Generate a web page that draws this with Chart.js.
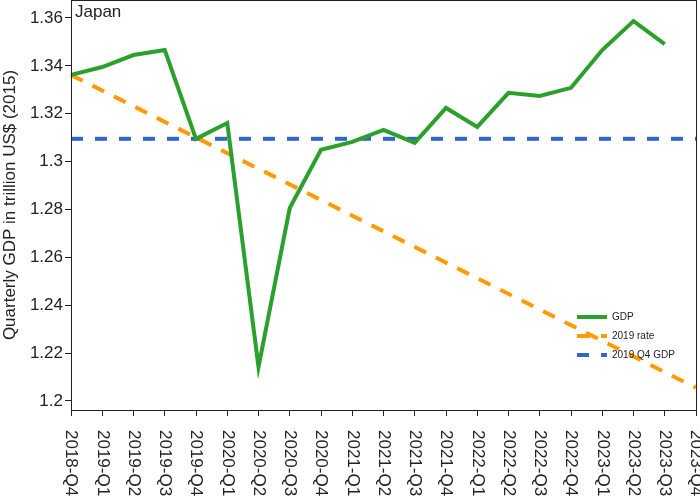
<!DOCTYPE html>
<html>
<head>
<meta charset="utf-8">
<script src="https://cdn.jsdelivr.net/npm/chart.js@4"></script>
<style>
  html, body { margin: 0; padding: 0; background: #fff; }
  canvas { display: block; }
</style>
</head>
<body>
<canvas id="gdp" width="700" height="500"></canvas>
<script>
// quarters on the x axis
var quarters = ['2018-Q4', '2019-Q1', '2019-Q2', '2019-Q3', '2019-Q4',
	'2020-Q1', '2020-Q2', '2020-Q3', '2020-Q4',
	'2021-Q1', '2021-Q2', '2021-Q3', '2021-Q4',
	'2022-Q1', '2022-Q2', '2022-Q3', '2022-Q4',
	'2023-Q1', '2023-Q2', '2023-Q3', '2023-Q4'];

// GDP, trillion US$ (2015), last quarter not yet out
var gdp = [1.3362, 1.3395, 1.3445, 1.3466, 1.3095,
	1.3161, 1.2142, 1.2806, 1.3049,
	1.3082, 1.3132, 1.3078, 1.3224,
	1.3145, 1.3287, 1.3274, 1.3308,
	1.3466, 1.3587, 1.3491, null];

// 2019 growth rate trend, start and end only
var rate2019 = [1.3362, null, null, null, null, null, null, null, null, null,
	null, null, null, null, null, null, null, null, null, null, 1.2055];

// 2019 Q4 level
var q4level = [1.3095, null, null, null, null, null, null, null, null, null,
	null, null, null, null, null, null, null, null, null, null, 1.3095];

var yTicks = [1.2, 1.22, 1.24, 1.26, 1.28, 1.3, 1.32, 1.34, 1.36];

var textColor = '#222';
var fontFamily = '"Liberation Sans", Arial, sans-serif';

// frame, title, rotated quarter labels and legend
var extras = {
	id: 'extras',
	afterDraw: function(chart) {
		var ctx = chart.ctx;
		var area = chart.chartArea;
		var xs = chart.scales.x;

		ctx.save();
		ctx.strokeStyle = textColor;
		ctx.lineWidth = 1;
		ctx.strokeRect(area.left + 0.5, area.top + 0.5, area.right - area.left, area.bottom - area.top);

		ctx.fillStyle = textColor;
		ctx.font = '17px ' + fontFamily;
		ctx.textAlign = 'left';
		ctx.textBaseline = 'top';
		ctx.fillText('Japan', area.left + 4, area.top + 4);

		for (var i = 0; i < quarters.length; i++) {
			var x = xs.getPixelForValue(i);
			ctx.save();
			ctx.translate(x, area.bottom + 20);
			ctx.rotate(Math.PI / 2);
			ctx.textAlign = 'left';
			ctx.textBaseline = 'middle';
			ctx.fillText(quarters[i], 0, 0);
			ctx.restore();
		}

		var lx = area.left + 506;
		var ly = area.top + 317;
		ctx.font = '10px ' + fontFamily;
		ctx.textBaseline = 'middle';
		chart.data.datasets.forEach(function(ds, k) {
			var y = ly + k * 19;
			ctx.beginPath();
			ctx.setLineDash(ds.borderDash || []);
			ctx.strokeStyle = ds.borderColor;
			ctx.lineWidth = ds.borderWidth;
			ctx.moveTo(lx, y);
			ctx.lineTo(lx + 30, y);
			ctx.stroke();
			ctx.setLineDash([]);
			ctx.fillStyle = textColor;
			ctx.fillText(ds.label, lx + 35, y);
		});
		ctx.restore();
	}
};

function noPad(scale) {
	scale.paddingTop = 0;
	scale.paddingBottom = 0;
	scale.paddingLeft = 0;
	scale.paddingRight = 0;
}

var ctx = document.getElementById('gdp').getContext('2d');

new Chart(ctx, {
	type: 'line',
	data: {
		labels: quarters,
		datasets: [{
			label: 'GDP',
			data: gdp,
			borderColor: '#2ca02c',
			borderWidth: 4,
			pointRadius: 0,
			tension: 0
		}, {
			label: '2019 rate',
			data: rate2019,
			borderColor: '#ff9a00',
			borderWidth: 4,
			borderDash: [13, 11],
			pointRadius: 0,
			spanGaps: true
		}, {
			label: '2019 Q4 GDP',
			data: q4level,
			borderColor: '#3366cc',
			borderWidth: 4,
			borderDash: [12, 12],
			pointRadius: 0,
			spanGaps: true
		}]
	},
	options: {
		responsive: false,
		animation: false,
		devicePixelRatio: 1,
		layout: { padding: { top: 0, right: 4, bottom: 0, left: 0 } },
		plugins: {
			legend: { display: false },
			tooltip: { enabled: false }
		},
		scales: {
			x: {
				offset: false,
				border: { display: true, color: textColor },
				grid: { drawOnChartArea: false, drawTicks: true, tickLength: 6, color: textColor },
				ticks: { display: false },
				afterFit: function(scale) { scale.height = 90; noPad(scale); }
			},
			y: {
				min: 1.1962,
				max: 1.3675,
				border: { display: true, color: textColor },
				grid: { drawOnChartArea: false, drawTicks: true, tickLength: 6, color: textColor },
				afterBuildTicks: function(scale) {
					scale.ticks = yTicks.map(function(v) { return { value: v }; });
				},
				ticks: {
					color: textColor,
					font: { family: fontFamily, size: 17 },
					padding: 2,
					callback: function(v) { return String(Number(v.toFixed(2))); }
				},
				title: {
					display: true,
					text: 'Quarterly GDP in trillion US$ (2015)',
					color: textColor,
					font: { family: fontFamily, size: 17 },
					padding: 0
				},
				afterFit: function(scale) { scale.width = 71; noPad(scale); }
			}
		}
	},
	plugins: [extras]
});
</script>
</body>
</html>
